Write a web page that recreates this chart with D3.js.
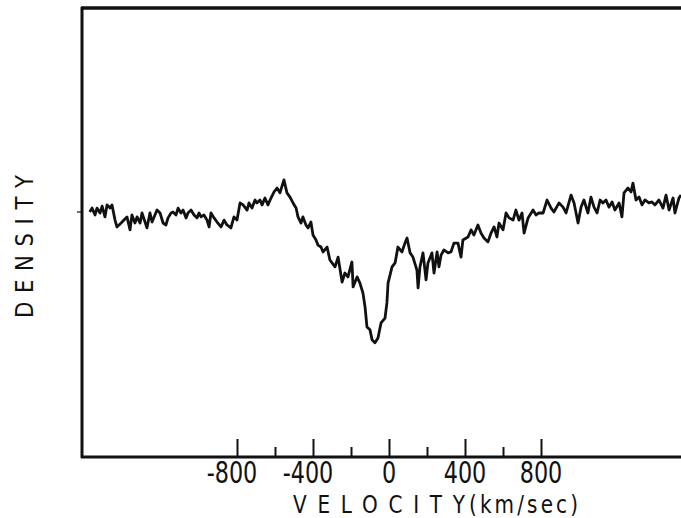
<!DOCTYPE html>
<html lang="en">
  <head>
    <meta charset="utf-8">
    <script src="https://cdn.jsdelivr.net/npm/d3@7"></script>
    <title>Density vs velocity</title>
    <style>
      body { margin: 0; background: #fff; }
      text { font-family: "DejaVu Sans", sans-serif; fill: #111; }
    </style>
  </head>
  <body>
    <script>

    // velocity (km/sec) and relative density (continuum = 1)
    var velocity = [-1575,-1563,-1547,-1537,-1521,-1510,-1495,-1484,-1468,-1458,-1442,-1432,-1410,-1395,-1379,-1363,-1353,-1337,-1326,-1310,
      -1300,-1284,-1274,-1258,-1247,-1232,-1221,-1205,-1189,-1174,-1163,-1147,-1137,-1121,-1110,-1095,-1084,-1068,-1058,-1042,
      -1026,-1010,-1000,-989,-974,-958,-947,-937,-921,-905,-884,-868,-853,-832,-816,-800,-784,-768,-747,-737,
      -721,-705,-695,-679,-668,-653,-637,-621,-605,-589,-574,-553,-537,-521,-505,-489,-479,-463,-453,-437,
      -426,-411,-400,-384,-374,-358,-347,-326,-311,-284,-268,-247,-232,-216,-195,-189,-168,-153,-137,-126,
      -116,-100,-89,-74,-58,-42,-21,-11,-5,16,32,47,68,84,95,111,126,147,153,163,
      179,195,205,226,237,253,263,274,289,311,326,342,363,379,389,416,432,447,468,484,
      500,521,537,553,568,579,600,616,632,653,668,684,700,711,732,758,774,789,811,832,
      853,868,895,916,932,958,974,995,1011,1026,1047,1063,1079,1095,1111,1126,1142,1158,1174,1189,
      1211,1226,1237,1258,1274,1284,1300,1316,1332,1347,1368,1384,1400,1421,1442,1458,1474,1495,1505,1526,1537];

    var density = [1.000,1.016,0.988,1.016,0.996,1.024,0.980,1.029,1.016,1.029,0.967,0.939,0.955,0.967,0.980,0.927,0.988,0.955,0.980,0.955,
      0.996,0.959,0.935,0.996,0.959,0.988,1.008,0.996,0.955,0.947,0.976,0.996,1.000,0.988,1.016,0.996,1.008,0.976,0.996,1.008,
      0.988,0.976,0.996,0.980,0.988,0.967,0.939,0.996,0.976,0.959,0.939,0.967,0.947,0.935,0.980,0.967,1.037,1.029,1.008,1.037,
      1.016,1.049,1.037,1.049,1.029,1.057,1.029,1.057,1.082,1.098,1.078,1.131,1.078,1.061,1.037,1.016,0.980,0.955,0.980,0.947,
      0.935,0.959,0.906,0.886,0.865,0.857,0.837,0.857,0.804,0.776,0.816,0.714,0.751,0.735,0.796,0.694,0.735,0.710,0.669,0.612,
      0.531,0.519,0.478,0.466,0.486,0.547,0.567,0.629,0.710,0.776,0.792,0.857,0.837,0.873,0.894,0.833,0.816,0.763,0.690,0.776,
      0.833,0.723,0.792,0.833,0.751,0.837,0.776,0.824,0.845,0.833,0.837,0.873,0.873,0.816,0.886,0.898,0.927,0.906,0.947,0.914,
      0.894,0.878,0.914,0.939,0.898,0.955,0.927,0.996,0.976,0.967,1.008,0.967,0.996,0.914,0.976,1.008,0.988,0.996,0.996,1.049,
      1.016,1.000,1.037,1.020,0.996,1.069,1.037,0.955,1.020,1.049,0.996,1.061,1.020,0.996,1.049,1.037,1.049,1.020,1.041,1.008,
      1.037,0.980,1.078,1.098,1.082,1.118,1.049,1.061,1.029,1.049,1.037,1.041,1.029,1.049,1.016,1.069,1.008,1.057,0.996,1.057,1.069];

    var majorTicks = [-800, -400, 0, 400, 800];
    var minorTicks = [-600, -200, 200, 600];
    var tickLabels = ["-800", "-400", "0", "400", "800"];
    var densityTicks = [1];

    var width = 681, height = 518;

    // frame: left 82, top 8, bottom 457, open on the right
    var x = d3.scaleLinear()
          .domain([-800, 800])
          .range([237, 541]);

    var y = d3.scaleLinear()
          .domain([0, 1])
          .range([457, 212]);

    var svg = d3.select("body")
      .append("svg")
        .attr("width", width)
        .attr("height", height);

    var data = velocity.map(function(v, i){ return {v: v, d: density[i]}; });

    var line = d3.line()
        .x(function(d){ return x(d.v); })
        .y(function(d){ return y(d.d); });

    svg.append("path")
        .datum(data)
        .attr("fill", "none")
        .attr("stroke", "#111")
        .attr("stroke-width", 2.8)
        .attr("stroke-linejoin", "round")
        .attr("d", line);

    // frame lines
    svg.append("line").attr("x1", 82).attr("x2", 82).attr("y1", 7).attr("y2", 458)
        .attr("stroke", "#111").attr("stroke-width", 3);
    svg.append("line").attr("x1", 81).attr("x2", width).attr("y1", 8).attr("y2", 8)
        .attr("stroke", "#111").attr("stroke-width", 3.5);
    svg.append("line").attr("x1", 81).attr("x2", width).attr("y1", 457).attr("y2", 457)
        .attr("stroke", "#111").attr("stroke-width", 3);

    // ticks pointing up into the plot
    var major = svg.append("g")
        .attr("transform", "translate(0,457)")
        .call(d3.axisBottom(x).tickValues(majorTicks).tickSize(-18).tickFormat(""));
    var minor = svg.append("g")
        .attr("transform", "translate(0,457)")
        .call(d3.axisBottom(x).tickValues(minorTicks).tickSize(-10).tickFormat(""));
    [major, minor].forEach(function(g){
      g.select(".domain").remove();
      g.selectAll(".tick line").attr("stroke", "#111").attr("stroke-width", 2);
    });

    // labels under the axis, tall and narrow like the original lettering
    svg.selectAll(".tlabel")
        .data(majorTicks)
        .enter()
      .append("text")
        .attr("class", "tlabel")
        .attr("transform", function(d, i){
          var shift = tickLabels[i].charAt(0) == "-" ? -5 : 0;
          return "translate(" + (x(d) + shift) + ",483) scale(0.72,1)";
        })
        .attr("text-anchor", "middle")
        .style("font-size", "31px")
        .text(function(d, i){ return tickLabels[i]; });

    var title = svg.append("text")
        .attr("transform", "translate(293,513) scale(0.8,1)")
        .style("font-size", "25px");
    title.append("tspan")
        .attr("textLength", 172 / 0.8)
        .attr("lengthAdjust", "spacing")
        .text("VELOCITY");
    title.append("tspan")
        .attr("x", 176 / 0.8)
        .attr("textLength", 109 / 0.8)
        .attr("lengthAdjust", "spacing")
        .text("(km/sec)");

    // density axis: only a small mark at the continuum level
    svg.selectAll(".ytick")
        .data(densityTicks)
        .enter()
      .append("line")
        .attr("x1", 77).attr("x2", 82)
        .attr("y1", function(d){ return y(d); })
        .attr("y2", function(d){ return y(d); })
        .attr("stroke", "#111")
        .attr("stroke-width", 1.2);

    svg.append("text")
        .attr("transform", "translate(33,318) rotate(-90) scale(0.85,1)")
        .attr("textLength", 143 / 0.85)
        .attr("lengthAdjust", "spacing")
        .style("font-size", "25px")
        .text("DENSITY");

    </script>
  </body>
</html>
